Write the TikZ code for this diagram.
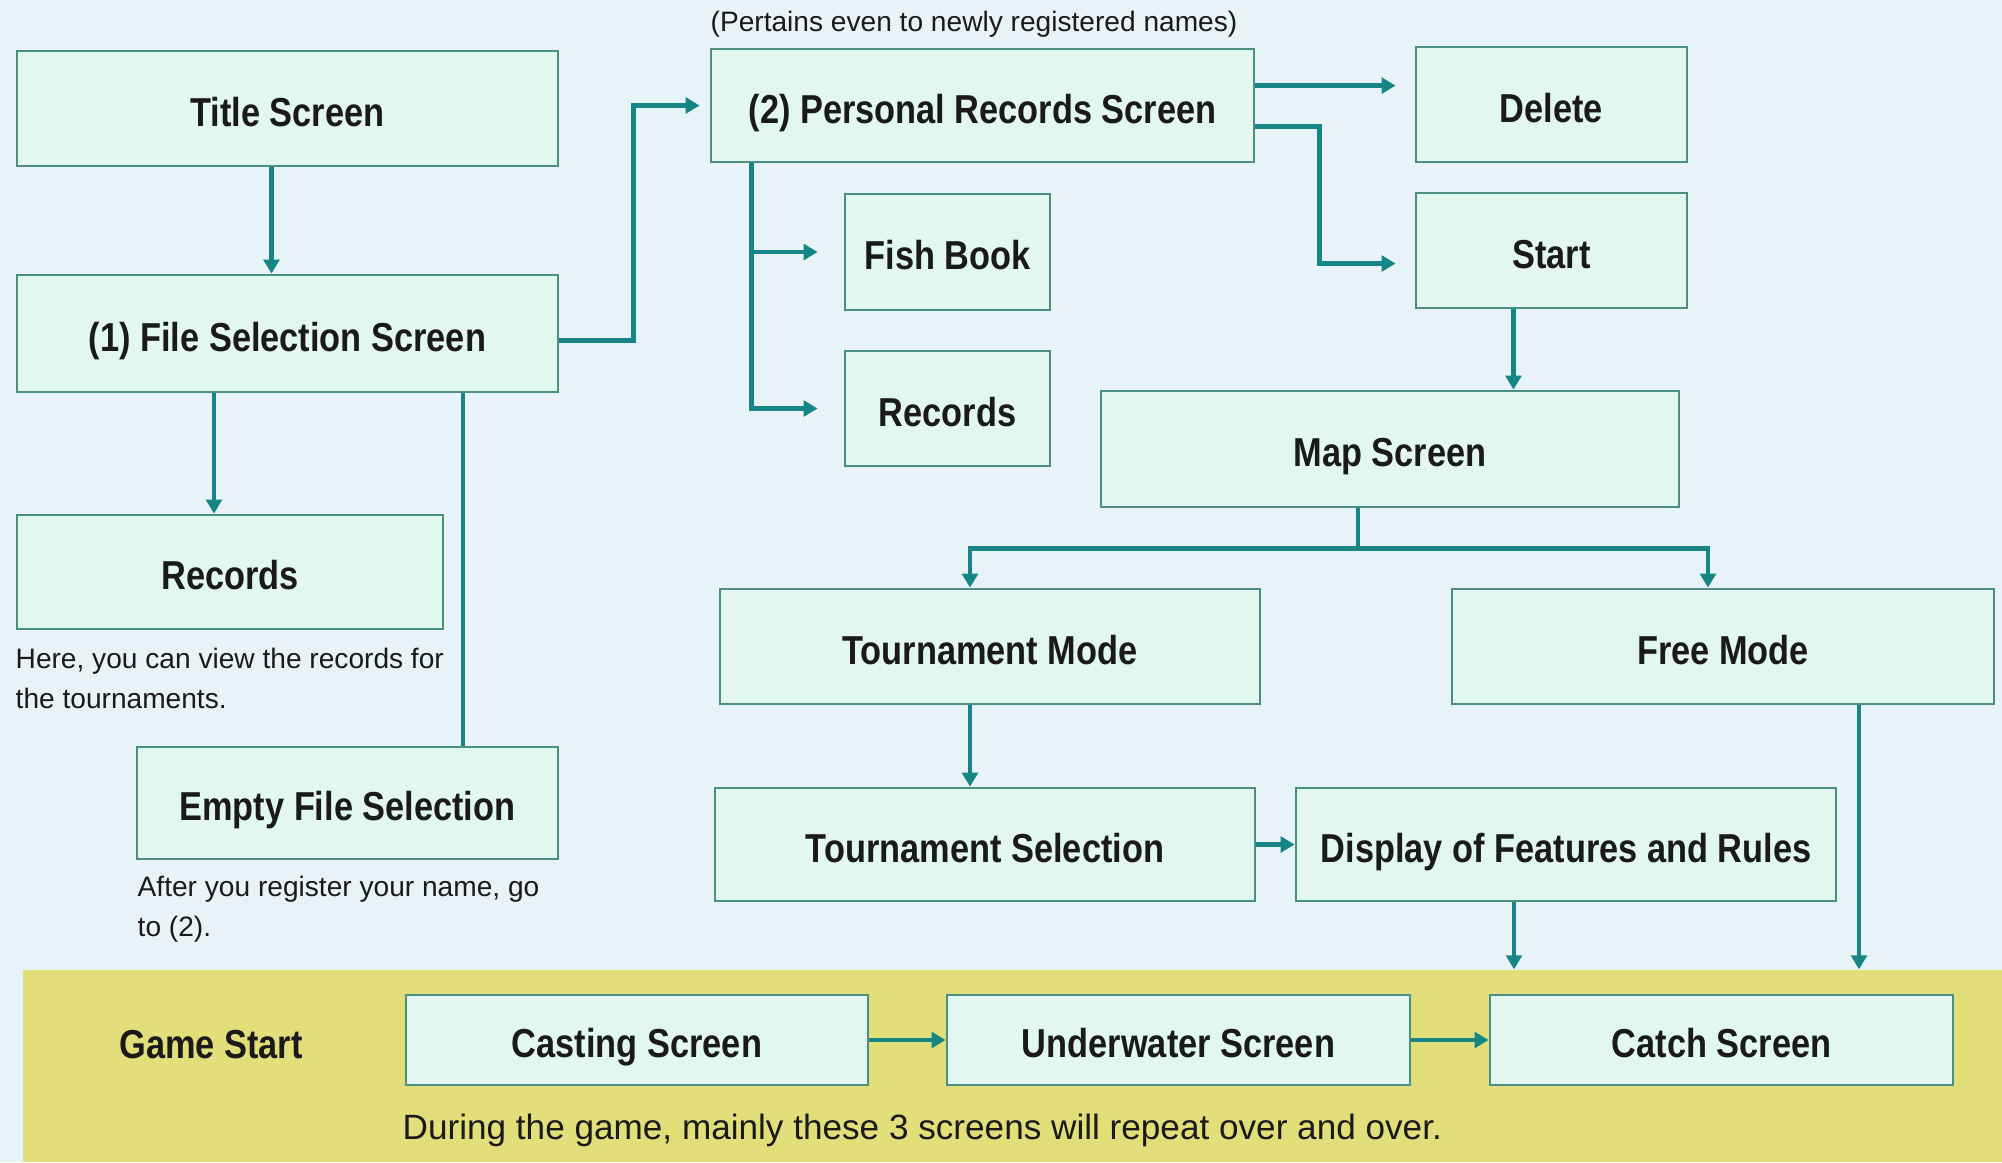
\documentclass[tikz,border=0pt]{standalone}
\usepackage{fontspec}
\usepackage{xcolor}
\setmainfont{Liberation Sans}
\newfontfamily\narrowfont{Liberation Sans}[FakeStretch=0.85]
\usetikzlibrary{arrows.meta}

\definecolor{bgblue}{HTML}{E8F3F8}
\definecolor{boxfill}{HTML}{E2F8EE}
\definecolor{boxline}{HTML}{4A8E84}
\definecolor{linkteal}{HTML}{168585}
\definecolor{bandyellow}{HTML}{E2DF7A}
\definecolor{inkblack}{HTML}{1A1A1A}

\begin{document}
\begin{tikzpicture}[
  screen/.style={draw=boxline, line width=0.8pt, fill=boxfill, inner sep=0pt, text=inkblack,
    text height=10pt, text depth=0pt,
    font=\narrowfont\bfseries\fontsize{11.5}{13}\selectfont},
  link/.style={draw=linkteal, line width=1.4pt},
  arr/.style={link, -{Triangle[length=4pt,width=4.5pt]}},
  note/.style={inner sep=0pt, align=left, text=inkblack, font=\fontsize{8}{11.4}\selectfont}
]
\useasboundingbox (0,0) rectangle (20.02,-11.62);
\fill[bgblue] (0,0) rectangle (20.02,-11.62);

% game band
\node[fill=bandyellow, inner sep=0pt, minimum width=19.79cm, minimum height=1.92cm] (band) at (10.125,-10.66) {};
\node[text=inkblack, text height=10pt, text depth=0pt, font=\narrowfont\bfseries\fontsize{11.5}{13}\selectfont] (gamestart) at (2.11,-10.41) {Game Start};

% left column
\node[screen, minimum width=5.41cm, minimum height=1.15cm] (title) at (2.875,-1.085) {Title Screen};
\node[screen, minimum width=5.41cm, minimum height=1.17cm] (filesel) at (2.875,-3.335) {(1) File Selection Screen};
\node[screen, minimum width=4.26cm, minimum height=1.14cm] (records1) at (2.30,-5.72) {Records};
\node[screen, minimum width=4.21cm, minimum height=1.12cm] (empty) at (3.475,-8.03) {Empty File Selection};
\node[note, anchor=west] (recnote) at (0.15,-6.785) {Here, you can view the records for\\the tournaments.};
\node[note, anchor=west] (emptynote) at (1.37,-9.095) {After you register your name, go\\to (2).};

% personal records
\node[note] (pertains) at (9.74,-0.24) {(Pertains even to newly registered names)};
\node[screen, minimum width=5.43cm, minimum height=1.13cm] (personal) at (9.825,-1.055) {(2) Personal Records Screen};
\node[screen, minimum width=2.05cm, minimum height=1.16cm] (fishbook) at (9.475,-2.52) {Fish Book};
\node[screen, minimum width=2.05cm, minimum height=1.15cm] (records2) at (9.475,-4.085) {Records};
\node[screen, minimum width=2.71cm, minimum height=1.15cm] (delete) at (15.515,-1.045) {Delete};
\node[screen, minimum width=2.71cm, minimum height=1.15cm] (start) at (15.515,-2.505) {Start};
\node[screen, minimum width=5.78cm, minimum height=1.16cm] (map) at (13.90,-4.49) {Map Screen};

% modes
\node[screen, minimum width=5.40cm, minimum height=1.15cm] (tourn) at (9.90,-6.465) {Tournament Mode};
\node[screen, minimum width=5.42cm, minimum height=1.15cm] (free) at (17.23,-6.465) {Free Mode};
\node[screen, minimum width=5.40cm, minimum height=1.13cm] (toursel) at (9.85,-8.445) {Tournament Selection};
\node[screen, minimum width=5.40cm, minimum height=1.13cm] (display) at (15.66,-8.445) {Display of Features and Rules};

% game screens
\node[screen, minimum width=4.62cm, minimum height=0.90cm] (casting) at (6.37,-10.40) {Casting Screen};
\node[screen, minimum width=4.63cm, minimum height=0.90cm] (underwater) at (11.785,-10.40) {Underwater Screen};
\node[screen, minimum width=4.63cm, minimum height=0.90cm] (catch) at (17.215,-10.40) {Catch Screen};
\node[anchor=west, inner sep=0pt, text=inkblack, font=\fontsize{10}{12}\selectfont] (repeat) at (4.02,-11.30)
  {During the game, mainly these 3 screens will repeat over and over.};

% connectors
\draw[arr] ([xshift=-1.6mm]title.south) -- ([xshift=-1.6mm]filesel.north);
\draw[arr] ([xshift=-1.6mm]records1.north |- filesel.south) -- ([xshift=-1.6mm]records1.north);
\draw[link] ([xshift=11.55mm]empty.north) -- ([xshift=11.55mm]empty.north |- filesel.south);
\draw[arr, shorten >=1mm] ([yshift=-0.7mm]filesel.east) -- ++(0.74,0) |- (personal.west);

\draw[arr, shorten >=2.6mm] ([xshift=4.2mm]personal.south west) |- (fishbook.west);
\draw[arr, shorten >=2.6mm] ([xshift=4.2mm]personal.south west) |- (records2.west);
\draw[arr, shorten >=1.9mm] ([yshift=-3.8mm]personal.north east) -- ([yshift=-3.8mm]personal.north east -| delete.west);
\draw[arr, shorten >=1.9mm] ([yshift=-7.9mm]personal.north east) -- ++(0.64,0) |- ([yshift=-1.3mm]start.west);
\draw[arr] ([xshift=-3.8mm]start.south) -- ([xshift=-3.8mm]start.south |- map.north);

\draw[arr] ([xshift=-3.2mm]map.south) -- ++(0,-0.4) -| ([xshift=-2mm]tourn.north);
\draw[arr] ([xshift=-3.2mm]map.south) -- ++(0,-0.4) -| ([xshift=-1.5mm]free.north);
\draw[arr] ([xshift=-2mm]tourn.south) -- ([xshift=-2mm]tourn.south |- toursel.north);
\draw[arr] (toursel.east) -- (display.west);
\draw[arr] ([xshift=-5.2mm]display.south) -- ([xshift=-5.2mm]display.south |- band.north);
\draw[arr] ([xshift=13.6mm]free.south) -- ([xshift=13.6mm]free.south |- band.north);

\draw[arr] (casting.east) -- (underwater.west);
\draw[arr] (underwater.east) -- (catch.west);
\end{tikzpicture}
\end{document}
